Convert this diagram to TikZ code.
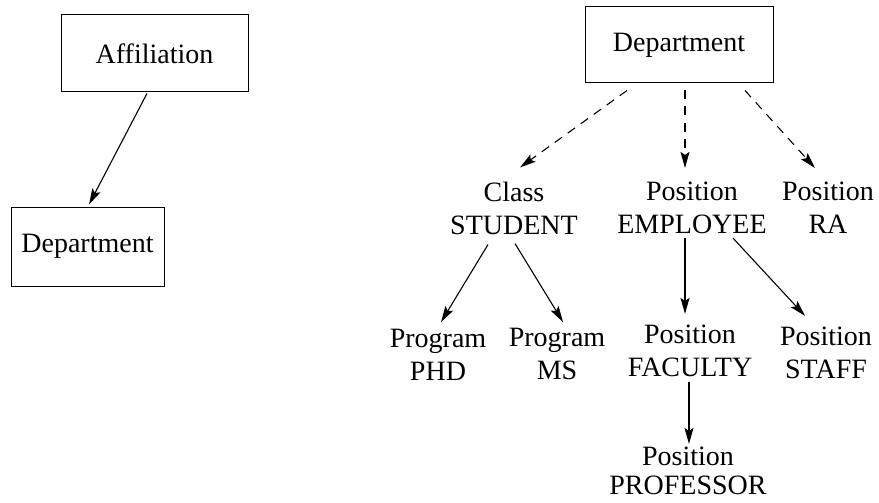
\documentclass[tikz,border=0pt]{standalone}
\usepackage{fontspec}
\setmainfont{Liberation Serif}
\usetikzlibrary{arrows.meta}
\begin{document}
\begin{tikzpicture}[x=1pt,y=-1pt,
  every node/.style={font=\fontsize{28}{33}\selectfont},
  entity/.style={draw,line width=1pt,inner sep=0pt,anchor=center},
  lbl/.style={align=center,inner xsep=2pt,inner ysep=12pt},
  link/.style={line width=1.1pt,-{Stealth[length=16pt,width=9pt,inset=3pt]}},
  sublink/.style={link,dash pattern=on 9pt off 7pt}]
\useasboundingbox (0,0) rectangle (879,503);

% left: affiliation to department
\node[entity,minimum width=187pt,minimum height=77pt] (aff) at (154.5,53.5) {Affiliation};
\node[entity,minimum width=153pt,minimum height=79pt] (dep1) at (87.5,246.5) {Department};
\draw[link] ([shift={(-7.5,1)}]aff.south) -- ([shift={(1.5,-2)}]dep1.north);

% right: department hierarchy
\node[entity,minimum width=188pt,minimum height=76pt] (dep2) at (679,45) {Department};
\node[lbl] (cls) at (514,208) {Class\\STUDENT};
\node[lbl] (emp) at (692,208) {Position\\EMPLOYEE};
\node[lbl] (ra) at (828,208) {Position\\RA};
\node[lbl] (phd) at (438,355) {Program\\PHD};
\node[lbl] (ms) at (557,354) {Program\\MS};
\node[lbl] (fac) at (690,351) {Position\\FACULTY};
\node[lbl] (stf) at (826,353) {Position\\STAFF};
\node[lbl,font=\fontsize{28}{29}\selectfont] (prof) at (688,471) {Position\\PROFESSOR};

\draw[sublink] ([shift={(-52,7)}]dep2.south) -- ([shift={(6,-2)}]cls.north);
\draw[sublink] ([shift={(6,7)}]dep2.south) -- ([shift={(-7,-2)}]emp.north);
\draw[sublink] ([shift={(66,7)}]dep2.south) -- ([shift={(-13,-2)}]ra.north);

\draw[link] ([shift={(-26,-2)}]cls.south) -- ([shift={(3,5)}]phd.north);
\draw[link] ([shift={(1,-3)}]cls.south) -- ([shift={(6,6)}]ms.north);
\draw[link] ([shift={(-7,-8)}]emp.south) -- ([shift={(-5,1)}]fac.north);
\draw[link] ([shift={(41,-8)}]emp.south) -- ([shift={(-21,1)}]stf.north);
\draw[link] ([shift={(-1,-7)}]fac.south) -- ([shift={(1,9)}]prof.north);
\end{tikzpicture}
\end{document}
